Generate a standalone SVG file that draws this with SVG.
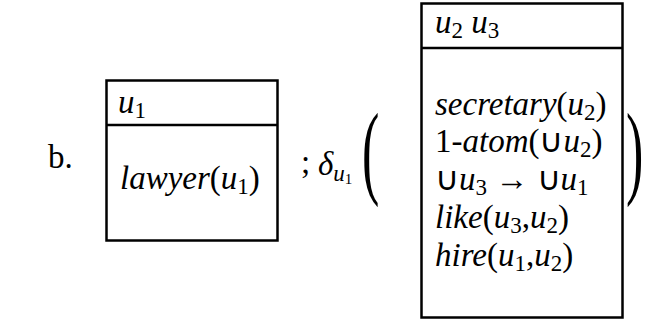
<svg xmlns="http://www.w3.org/2000/svg" width="653" height="320" viewBox="0 0 653 320" font-family="'Liberation Serif', 'Times New Roman', serif">
<style>
text{font-family:"Liberation Serif","Times New Roman",serif;font-size:33px;fill:#000}
.i{font-style:italic}
.s{font-size:23px}
.box{fill:#fff;stroke:#000;stroke-width:2.5}
.rule{stroke:#000;stroke-width:2.5}
</style>
<rect width="653" height="320" fill="#fff"/>
<text x="48" y="168">b.</text>
<g id="box1">
<rect class="box" x="106.5" y="80.5" width="171" height="160"/>
<line class="rule" x1="106.5" y1="125" x2="277.5" y2="125"/>
<text x="118" y="113"><tspan class="i">u</tspan><tspan class="s" dy="5">1</tspan></text>
<text x="120" y="189"><tspan class="i">lawyer</tspan>(<tspan class="i">u</tspan><tspan class="s" dy="5">1</tspan><tspan dy="-5">)</tspan></text>
</g>
<text x="301" y="173">;</text>
<text x="318" y="175"><tspan class="i">δ</tspan><tspan class="i s" dy="6">u</tspan><tspan style="font-size:15px" dy="3">1</tspan></text>
<text transform="translate(362,185) scale(0.5,1)" style="font-size:104px">(</text>
<g id="box2">
<rect class="box" x="421.5" y="3.5" width="201" height="314"/>
<line class="rule" x1="421.5" y1="48" x2="622.5" y2="48"/>
<text x="435" y="33"><tspan class="i">u</tspan><tspan class="s" dy="5">2</tspan><tspan class="i" dy="-5"> u</tspan><tspan class="s" dy="5">3</tspan></text>
<text x="435" y="115"><tspan class="i">secretary</tspan>(<tspan class="i">u</tspan><tspan class="s" dy="5">2</tspan><tspan dy="-5">)</tspan></text>
<text x="435" y="152">1-<tspan class="i">atom</tspan>(∪<tspan class="i">u</tspan><tspan class="s" dy="5">2</tspan><tspan dy="-5">)</tspan></text>
<text x="435" y="190">∪<tspan class="i">u</tspan><tspan class="s" dy="5">3</tspan><tspan dy="-5"> → ∪</tspan><tspan class="i">u</tspan><tspan class="s" dy="5">1</tspan></text>
<text x="435" y="228"><tspan class="i">like</tspan>(<tspan class="i">u</tspan><tspan class="s" dy="5">3</tspan><tspan dy="-5">,</tspan><tspan class="i">u</tspan><tspan class="s" dy="5">2</tspan><tspan dy="-5">)</tspan></text>
<text x="435" y="266"><tspan class="i">hire</tspan>(<tspan class="i">u</tspan><tspan class="s" dy="5">1</tspan><tspan dy="-5">,</tspan><tspan class="i">u</tspan><tspan class="s" dy="5">2</tspan><tspan dy="-5">)</tspan></text>
</g>
<text transform="translate(626,185) scale(0.5,1)" style="font-size:104px">)</text>
</svg>
